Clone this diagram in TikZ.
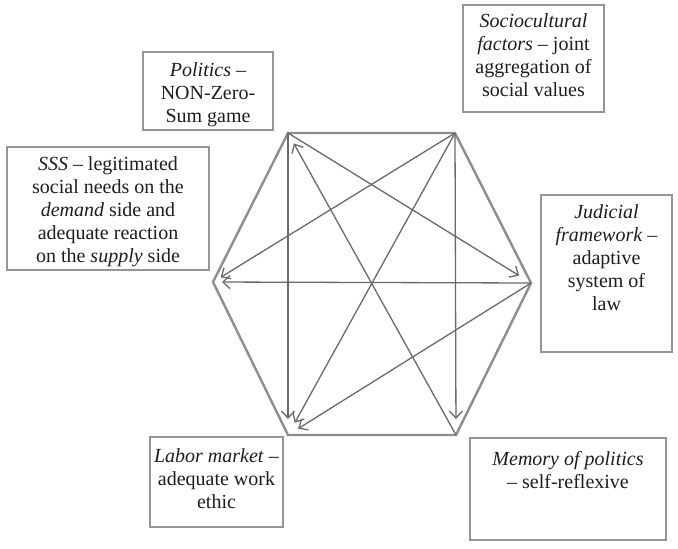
\documentclass[tikz,border=0pt]{standalone}
\usepackage{fontspec}
\setmainfont{Liberation Serif}
\usetikzlibrary{arrows.meta}
\definecolor{boxgray}{HTML}{959595}
\definecolor{hexgray}{HTML}{8E8E8E}
\definecolor{linkgray}{HTML}{6A6A6A}
\definecolor{inkgray}{HTML}{1E1E1E}
\begin{document}
\begin{tikzpicture}[x=1pt,y=-1pt,
 box/.style={draw=boxgray, line width=2.4pt, inner sep=0pt, fill=white},
 txt/.style={inner sep=0pt, align=center, anchor=north, font=\fontsize{20}{23}\selectfont, text=inkgray},
 hexa/.style={draw=hexgray, line width=2.4pt, line join=miter},
 link/.style={draw=linkgray, line width=1.3pt, -{Straight Barb[length=7pt,width=13pt,line width=1.3pt]}, shorten >=9pt}
]
\fill[white] (0,0) rectangle (678,549);
\useasboundingbox (0,0) rectangle (678,549);

% boxes
\node[box, minimum width=130pt, minimum height=78pt] (pol) at (208,91) {};
\node[box, minimum width=141pt, minimum height=107pt] (soc) at (533.5,58.5) {};
\node[box, minimum width=202pt, minimum height=123pt] (sss) at (108,208.5) {};
\node[box, minimum width=131pt, minimum height=157pt] (jud) at (606.5,273.5) {};
\node[box, minimum width=133pt, minimum height=90pt] (lab) at (216.5,482) {};
\node[box, minimum width=196pt, minimum height=102pt] (mem) at (568,489) {};

% texts
\node[txt] (polt) at ([yshift=-12pt]pol.north) {\textit{Politics} –\\NON-Zero-\\Sum game};
\node[txt] (soct) at ([yshift=-10pt]soc.north) {\textit{Sociocultural}\\\textit{factors} – joint\\aggregation of\\social values};
\node[txt] (ssst) at ([yshift=-11pt]sss.north) {\textit{SSS} – legitimated\\social needs on the\\\textit{demand} side and\\adequate reaction\\on the \textit{supply} side};
\node[txt] (judt) at ([yshift=-11pt]jud.north) {\textit{Judicial}\\\textit{framework} –\\adaptive\\system of\\law};
\node[txt] (labt) at ([yshift=-13pt]lab.north) {\textit{Labor market} –\\adequate work\\ethic};
\node[txt] (memt) at ([yshift=-14pt]mem.north) {\textit{Memory of politics}\\– self-reflexive};

% hexagon
\coordinate (TL) at (288,133);
\coordinate (TR) at (455,133);
\coordinate (R) at (531,283);
\coordinate (BR) at (456,435);
\coordinate (BL) at (288,435);
\coordinate (L) at (213,282);
\draw[hexa] (TL) -- (TR) -- (R) -- (BR) -- (BL) -- (L) -- cycle;

% connectors
\draw[link] (R) -- (L);
\draw[link] (TR) -- (L);
\draw[link, shorten >=14pt] (TL) -- (R);
\draw[link, shorten >=16pt] (TL) -- (BL);
\draw[link, shorten >=16pt] (TR) -- (BR);
\draw[link, shorten >=12pt] (BR) -- (TL);
\draw[link, shorten >=14pt] (TR) -- (BL);
\draw[link, shorten >=12pt] (R) -- (BL);
\end{tikzpicture}
\end{document}
